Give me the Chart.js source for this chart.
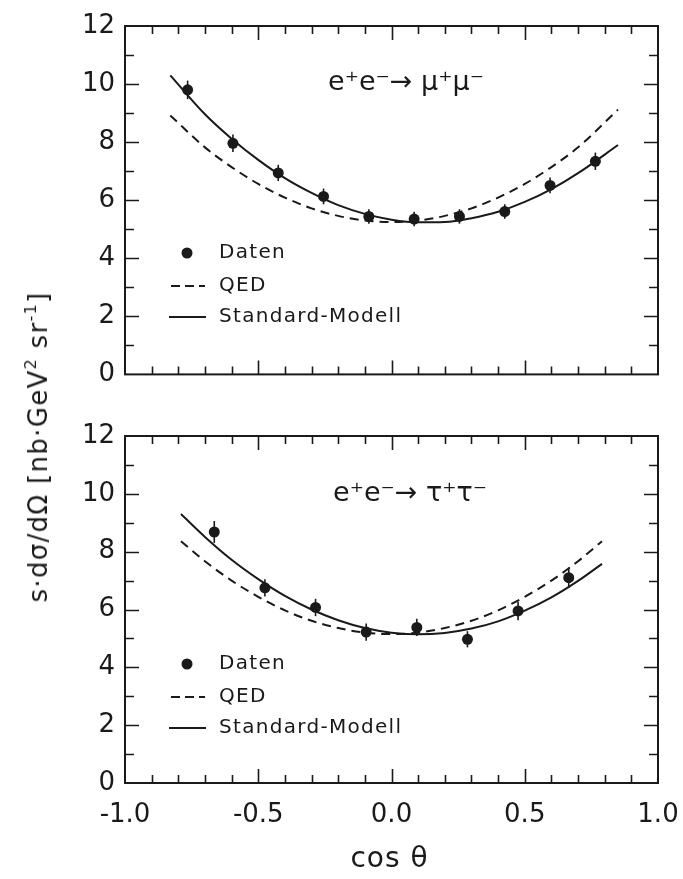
<!DOCTYPE html>
<html>
<head>
<meta charset="utf-8">
<script src="https://cdn.jsdelivr.net/npm/chart.js@4.4.0/dist/chart.umd.min.js"></script>
<style>
  body { margin: 0; background: #fff; width: 683px; height: 879px; position: relative; overflow: hidden; font-family: "DejaVu Sans", sans-serif; }
  canvas { position: absolute; left: 0; }
  #muChart { top: 0; }
  #tauChart { top: 400px; }
  #yTitle { position: absolute; left: 38px; top: 447px; transform: translate(-50%, -50%) rotate(-90deg); white-space: nowrap; font-size: 26px; letter-spacing: 1.3px; color: #1a1a1a; }
  #yTitle span { font-size: 16px; position: relative; top: -11px; }
</style>
</head>
<body>
<canvas id="muChart" width="683" height="400"></canvas>
<canvas id="tauChart" width="683" height="479"></canvas>
<div id="yTitle">s·dσ/dΩ [nb·GeV<span>2</span> sr<span>-1</span>]</div>
<script>
const INK = '#1a1a1a';

// Tick labels
const xTickLabels = ['-1.0', '-0.5', '0.0', '0.5', '1.0'];
const yTickLabels = ['0', '2', '4', '6', '8', '10', '12'];

// e+e- -> mu+mu- : measured points
const muCos = [-0.765, -0.595, -0.425, -0.255, -0.085, 0.085, 0.255, 0.425, 0.595, 0.765];
const muData = [9.80, 7.96, 6.94, 6.13, 5.44, 5.35, 5.44, 5.61, 6.51, 7.34];
const muErr = [0.32, 0.30, 0.28, 0.27, 0.25, 0.25, 0.25, 0.25, 0.27, 0.30];
// e+e- -> mu+mu- : model curves
const muCurveCos = [-0.83, -0.7, -0.6, -0.5, -0.4, -0.3, -0.2, -0.1, 0, 0.1, 0.2, 0.3, 0.4, 0.5, 0.6, 0.7, 0.85];
const muSM = [10.3, 8.96, 8.12, 7.39, 6.76, 6.25, 5.83, 5.53, 5.33, 5.24, 5.25, 5.38, 5.60, 5.94, 6.38, 6.93, 7.9];
const muQED = [8.92, 7.82, 7.14, 6.56, 6.09, 5.72, 5.46, 5.30, 5.25, 5.30, 5.46, 5.72, 6.09, 6.56, 7.14, 7.82, 9.12];

// e+e- -> tau+tau- : measured points
const tauCos = [-0.665, -0.475, -0.285, -0.095, 0.095, 0.285, 0.475, 0.665];
const tauData = [8.68, 6.75, 6.07, 5.22, 5.38, 4.97, 5.95, 7.10];
const tauErr = [0.38, 0.30, 0.30, 0.30, 0.30, 0.28, 0.32, 0.35];
// e+e- -> tau+tau- : model curves
const tauCurveCos = [-0.79, -0.7, -0.6, -0.5, -0.4, -0.3, -0.2, -0.1, 0, 0.1, 0.2, 0.3, 0.4, 0.5, 0.6, 0.7, 0.79];
const tauSM = [9.3, 8.51, 7.72, 7.05, 6.47, 6.00, 5.63, 5.36, 5.20, 5.14, 5.19, 5.34, 5.59, 5.96, 6.42, 6.99, 7.58];
const tauQED = [8.36, 7.67, 7.00, 6.44, 5.97, 5.61, 5.36, 5.20, 5.15, 5.20, 5.36, 5.61, 5.97, 6.44, 7.00, 7.67, 8.36];

const legendLabels = ['Daten', 'QED', 'Standard-Modell'];

function toXY(xs, ys) {
  return xs.map((x, i) => ({ x: x, y: ys[i] }));
}

// frame with inward ticks, error bars, legend and reaction label
const framePlugin = {
  id: 'frame',
  afterDatasetsDraw(chart, args, opts) {
    const ctx = chart.ctx;
    const y = chart.scales.y;
    const meta = chart.getDatasetMeta(2);
    ctx.save();
    ctx.strokeStyle = INK;
    ctx.lineWidth = 1.6;
    meta.data.forEach((pt, i) => {
      const v = chart.data.datasets[2].data[i].y;
      ctx.beginPath();
      ctx.moveTo(pt.x, y.getPixelForValue(v + opts.errors[i]));
      ctx.lineTo(pt.x, y.getPixelForValue(v - opts.errors[i]));
      ctx.stroke();
    });
    ctx.restore();
  },
  afterDraw(chart, args, opts) {
    const { ctx, chartArea: a } = chart;
    const x = chart.scales.x, y = chart.scales.y;
    ctx.save();
    ctx.strokeStyle = INK;
    ctx.lineWidth = 2;
    ctx.strokeRect(a.left, a.top, a.right - a.left, a.bottom - a.top);
    ctx.lineWidth = 1.6;
    ctx.beginPath();
    x.ticks.forEach(t => {
      const k = Math.round(t.value * 10);
      if (k === -10 || k === 10) return;
      const px = Math.round(x.getPixelForValue(t.value)) + 0.5;
      const len = k % 5 === 0 ? 14 : 8;
      ctx.moveTo(px, a.bottom); ctx.lineTo(px, a.bottom - len);
      ctx.moveTo(px, a.top); ctx.lineTo(px, a.top + len);
    });
    y.ticks.forEach(t => {
      if (t.value <= 0 || t.value >= 12) return;
      const py = Math.round(y.getPixelForValue(t.value)) + 0.5;
      const len = t.value % 2 === 0 ? 14 : 9;
      ctx.moveTo(a.left, py); ctx.lineTo(a.left + len, py);
      ctx.moveTo(a.right, py); ctx.lineTo(a.right - len, py);
    });
    ctx.stroke();

    // reaction label
    ctx.fillStyle = INK;
    ctx.font = '27px "DejaVu Sans"';
    ctx.textAlign = 'center';
    ctx.textBaseline = 'middle';
    ctx.fillText(opts.reaction, opts.reactionX, a.top + opts.reactionDy);

    // legend
    const lx = a.left + 44, ty = a.top + opts.legendDy;
    ctx.textAlign = 'left';
    ctx.font = '20px "DejaVu Sans"';
    ctx.letterSpacing = '1.3px';
    ctx.beginPath();
    ctx.arc(lx + 18, ty, 5.5, 0, Math.PI * 2);
    ctx.fill();
    ctx.fillText(legendLabels[0], lx + 50, ty);
    ctx.lineWidth = 2;
    ctx.setLineDash([9, 5]);
    ctx.beginPath();
    ctx.moveTo(lx + 2, ty + 33); ctx.lineTo(lx + 36, ty + 33);
    ctx.stroke();
    ctx.setLineDash([]);
    ctx.fillText(legendLabels[1], lx + 50, ty + 33);
    ctx.beginPath();
    ctx.moveTo(lx, ty + 64); ctx.lineTo(lx + 37, ty + 64);
    ctx.stroke();
    ctx.fillText(legendLabels[2], lx + 50, ty + 64);

    if (opts.xTitle) {
      ctx.font = '28px "DejaVu Sans"';
      ctx.letterSpacing = '1px';
      ctx.textAlign = 'center';
      ctx.fillText(opts.xTitle, (a.left + a.right) / 2 - 2, a.bottom + 77);
    }
    ctx.restore();
  }
};

function makePanel(id, cfg) {
  return new Chart(document.getElementById(id), {
    type: 'scatter',
    data: {
      datasets: [
        { label: legendLabels[2], type: 'line', data: toXY(cfg.curveCos, cfg.sm), borderColor: INK, borderWidth: 2, pointRadius: 0, cubicInterpolationMode: 'monotone', fill: false },
        { label: legendLabels[1], type: 'line', data: toXY(cfg.curveCos, cfg.qed), borderColor: INK, borderWidth: 2, borderDash: [9, 6], pointRadius: 0, cubicInterpolationMode: 'monotone', fill: false },
        { label: legendLabels[0], data: toXY(cfg.cos, cfg.vals), pointRadius: 5.5, backgroundColor: INK, borderWidth: 0 }
      ]
    },
    options: {
      responsive: false,
      animation: false,
      devicePixelRatio: 1,
      layout: { padding: { top: cfg.padTop, right: 25, left: 0, bottom: 0 } },
      plugins: {
        legend: { display: false },
        tooltip: { enabled: false },
        frame: { errors: cfg.err, reaction: cfg.reaction, reactionX: cfg.reactionX, reactionDy: cfg.reactionDy, legendDy: cfg.legendDy, xTitle: cfg.xTitle }
      },
      scales: {
        x: {
          type: 'linear', min: -1, max: 1,
          grid: { display: false, drawTicks: false },
          border: { display: false },
          ticks: {
            display: cfg.showX, stepSize: 0.1, autoSkip: false, maxRotation: 0, padding: 17,
            color: INK, font: { family: 'DejaVu Sans', size: 26 },
            callback: v => {
              const k = Math.round(v * 10);
              return k % 5 === 0 ? xTickLabels[(k + 10) / 5] : '';
            }
          },
          afterFit: s => {
            s.height = cfg.xHeight;
            s.paddingLeft = 0;
            s.paddingRight = 0;
          }
        },
        y: {
          min: 0, max: 12,
          grid: { display: false, drawTicks: false },
          border: { display: false },
          ticks: {
            stepSize: 1, autoSkip: false, padding: 10,
            color: INK, font: { family: 'DejaVu Sans', size: 26 },
            callback: v => v % 2 === 0 ? yTickLabels[v / 2] : ''
          },
          afterFit: s => { s.width = 125; }
        }
      }
    },
    plugins: [framePlugin]
  });
}

makePanel('muChart', {
  cos: muCos, vals: muData, err: muErr,
  curveCos: muCurveCos, sm: muSM, qed: muQED,
  padTop: 26, xHeight: 22, showX: false,
  reaction: 'e⁺e⁻→ μ⁺μ⁻', reactionX: 406, reactionDy: 57, legendDy: 227
});

makePanel('tauChart', {
  cos: tauCos, vals: tauData, err: tauErr,
  curveCos: tauCurveCos, sm: tauSM, qed: tauQED,
  padTop: 36, xHeight: 96, showX: true,
  reaction: 'e⁺e⁻→ τ⁺τ⁻', reactionX: 410, reactionDy: 58, legendDy: 228,
  xTitle: 'cos θ'
});
</script>
</body>
</html>
